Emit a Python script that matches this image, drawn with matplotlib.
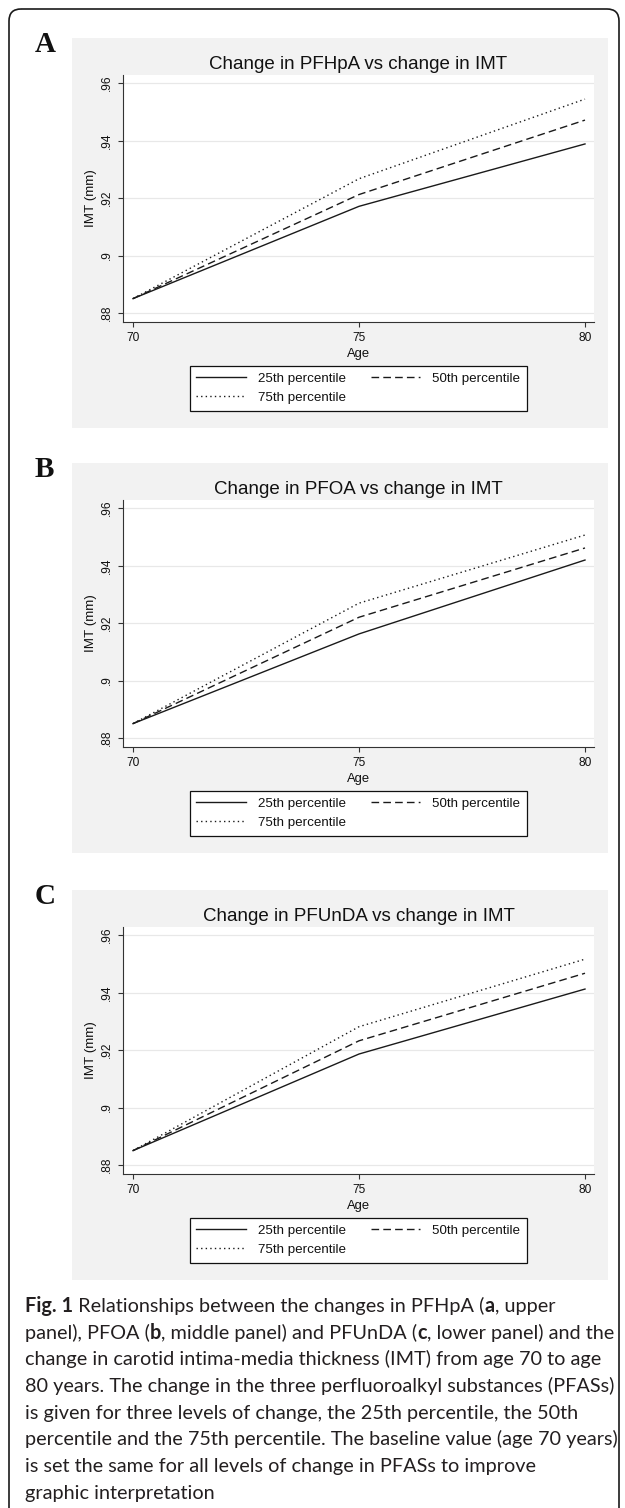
import matplotlib
matplotlib.use('Agg')
import matplotlib.pyplot as plt
from matplotlib.patches import FancyBboxPatch, Rectangle

# ---------------- data ----------------
ages = [70, 75, 80]
panel_letters = ['A', 'B', 'C']
titles = ['Change in PFHpA vs change in IMT',
          'Change in PFOA vs change in IMT',
          'Change in PFUnDA vs change in IMT']
series_labels = ['25th percentile', '50th percentile', '75th percentile']

pfhpa_p25 = [0.885, 0.9171, 0.9388]
pfhpa_p50 = [0.885, 0.9212, 0.9471]
pfhpa_p75 = [0.885, 0.9267, 0.9544]

pfoa_p25 = [0.885, 0.9162, 0.9419]
pfoa_p50 = [0.885, 0.9220, 0.9461]
pfoa_p75 = [0.885, 0.9269, 0.9506]

pfunda_p25 = [0.885, 0.9186, 0.9412]
pfunda_p50 = [0.885, 0.9232, 0.9467]
pfunda_p75 = [0.885, 0.9281, 0.9516]

yticks = [0.88, 0.90, 0.92, 0.94, 0.96]
ytick_labels = ['.88', '.9', '.92', '.94', '.96']
xticks = [70, 75, 80]
x_label = 'Age'
y_label = 'IMT (mm)'

caption_lines = [
    [('Fig. 1', True), (' Relationships between the changes in PFHpA (', False), ('a', True), (', upper', False)],
    [('panel), PFOA (', False), ('b', True), (', middle panel) and PFUnDA (', False), ('c', True), (', lower panel) and the', False)],
    [('change in carotid intima-media thickness (IMT) from age 70 to age', False)],
    [('80 years. The change in the three perfluoroalkyl substances (PFASs)', False)],
    [('is given for three levels of change, the 25th percentile, the 50th', False)],
    [('percentile and the 75th percentile. The baseline value (age 70 years)', False)],
    [('is set the same for all levels of change in PFASs to improve', False)],
    [('graphic interpretation', False)],
]

panels = [
    (pfhpa_p25, pfhpa_p50, pfhpa_p75),
    (pfoa_p25, pfoa_p50, pfoa_p75),
    (pfunda_p25, pfunda_p50, pfunda_p75),
]

# ---------------- layout ----------------
W, H = 625, 1508
DPI = 100
fig = plt.figure(figsize=(W / DPI, H / DPI), dpi=DPI)
fig.patch.set_facecolor('white')

bg = fig.add_axes([0, 0, 1, 1], zorder=-10)
bg.set_xlim(0, W)
bg.set_ylim(H, 0)
bg.axis('off')

# outer rounded border (open at the bottom)
border = FancyBboxPatch((9, 9), 610, 1700,
                        boxstyle='round,pad=0,rounding_size=12',
                        fc='none', ec='#1a1a1a', lw=1.2)
bg.add_patch(border)

INK = '#1a1a1a'
chart_font = ['Liberation Sans', 'DejaVu Sans']
cap_font = ['Lato', 'Open Sans', 'DejaVu Sans']

offsets = [0, 425, 852]
styles = ['-', (0, (5.5, 3.0)), (0, (1.0, 2.3))]

for i, off in enumerate(offsets):
    # grey graph region
    bg.add_patch(Rectangle((72, 38 + off), 536, 390, fc='#f2f2f2', ec='none'))
    # panel letter
    bg.text(35, 52 + off, panel_letters[i], fontsize=21, fontweight='bold',
            family=['Liberation Serif', 'DejaVu Serif'], color='#111111',
            ha='left', va='baseline')

    ax = fig.add_axes([123 / W, 1 - (322 + off) / H, 471 / W, 247 / H])
    ax.set_facecolor('white')
    lines = []
    for vals, ls, lab in zip(panels[i], styles, series_labels):
        ln, = ax.plot(ages, vals, color=INK, lw=1.0, linestyle=ls, label=lab)
        lines.append(ln)

    ax.set_xlim(70 - 10 / 45.2, 80 + 9 / 45.2)
    ax.set_ylim(0.88 - 9 / 2875, 0.96 + 8 / 2875)
    ax.set_xticks(xticks)
    ax.set_xticklabels([str(t) for t in xticks], family=chart_font, fontsize=8.6, color='#111')
    ax.set_yticks(yticks)
    ax.set_yticklabels(ytick_labels, rotation=90, va='center', family=chart_font,
                       fontsize=8.6, color='#111')
    ax.yaxis.grid(True, color='#e8e8e8', lw=0.9)
    ax.set_axisbelow(True)
    for s in ['top', 'right']:
        ax.spines[s].set_visible(False)
    for s in ['left', 'bottom']:
        ax.spines[s].set_color('#333333')
        ax.spines[s].set_linewidth(0.8)
    ax.tick_params(direction='out', length=3.5, width=0.8, color='#333333', pad=3.5)

    ax.set_xlabel(x_label, family=chart_font, fontsize=9.4, color='#111', labelpad=3)
    ax.set_ylabel(y_label, family=chart_font, fontsize=9.6, color='#111')
    ax.yaxis.set_label_coords(-0.056, 0.5)
    ax.set_title(titles[i], family=chart_font, fontsize=13.5, color='#111', pad=4.5)

    # legend: row-major order (25th, 50th / 75th)
    handles = [lines[0], lines[2], lines[1]]
    labels = [series_labels[0], series_labels[2], series_labels[1]]
    leg = ax.legend(handles, labels, ncol=2, loc='upper center',
                    bbox_to_anchor=(0.5, 1 - (366 - 75) / 247),
                    borderaxespad=0, frameon=True, fancybox=False,
                    edgecolor='#111111', framealpha=1, facecolor='white',
                    prop={'family': chart_font, 'size': 9.6},
                    handlelength=3.7, handletextpad=0.95, columnspacing=1.8,
                    labelspacing=0.5, borderpad=0.5)
    leg.get_frame().set_linewidth(0.9)
    for t in leg.get_texts():
        t.set_color('#111')

# ---------------- caption ----------------
renderer = fig.canvas.get_renderer()


def draw_line(x, y, segs, size, draw=True):
    cx = x
    arts = []
    for txt, bold in segs:
        t = fig.text(cx / W, 1 - y / H, txt, fontsize=size,
                     fontweight='bold' if bold else 'normal',
                     family=cap_font, color='#231f20', ha='left', va='baseline')
        bb = t.get_window_extent(renderer)
        cx += bb.width
        arts.append(t)
    if not draw:
        for t in arts:
            t.remove()
    return cx - x


CAP_X = 25
target_w = 590
w10 = draw_line(CAP_X, 1312, caption_lines[1], 10, draw=False)
cap_size = 10 * target_w / w10

for k, segs in enumerate(caption_lines):
    draw_line(CAP_X, 1312 + k * 26.7, segs, cap_size)

fig.savefig('out.png', dpi=DPI, facecolor='white')
